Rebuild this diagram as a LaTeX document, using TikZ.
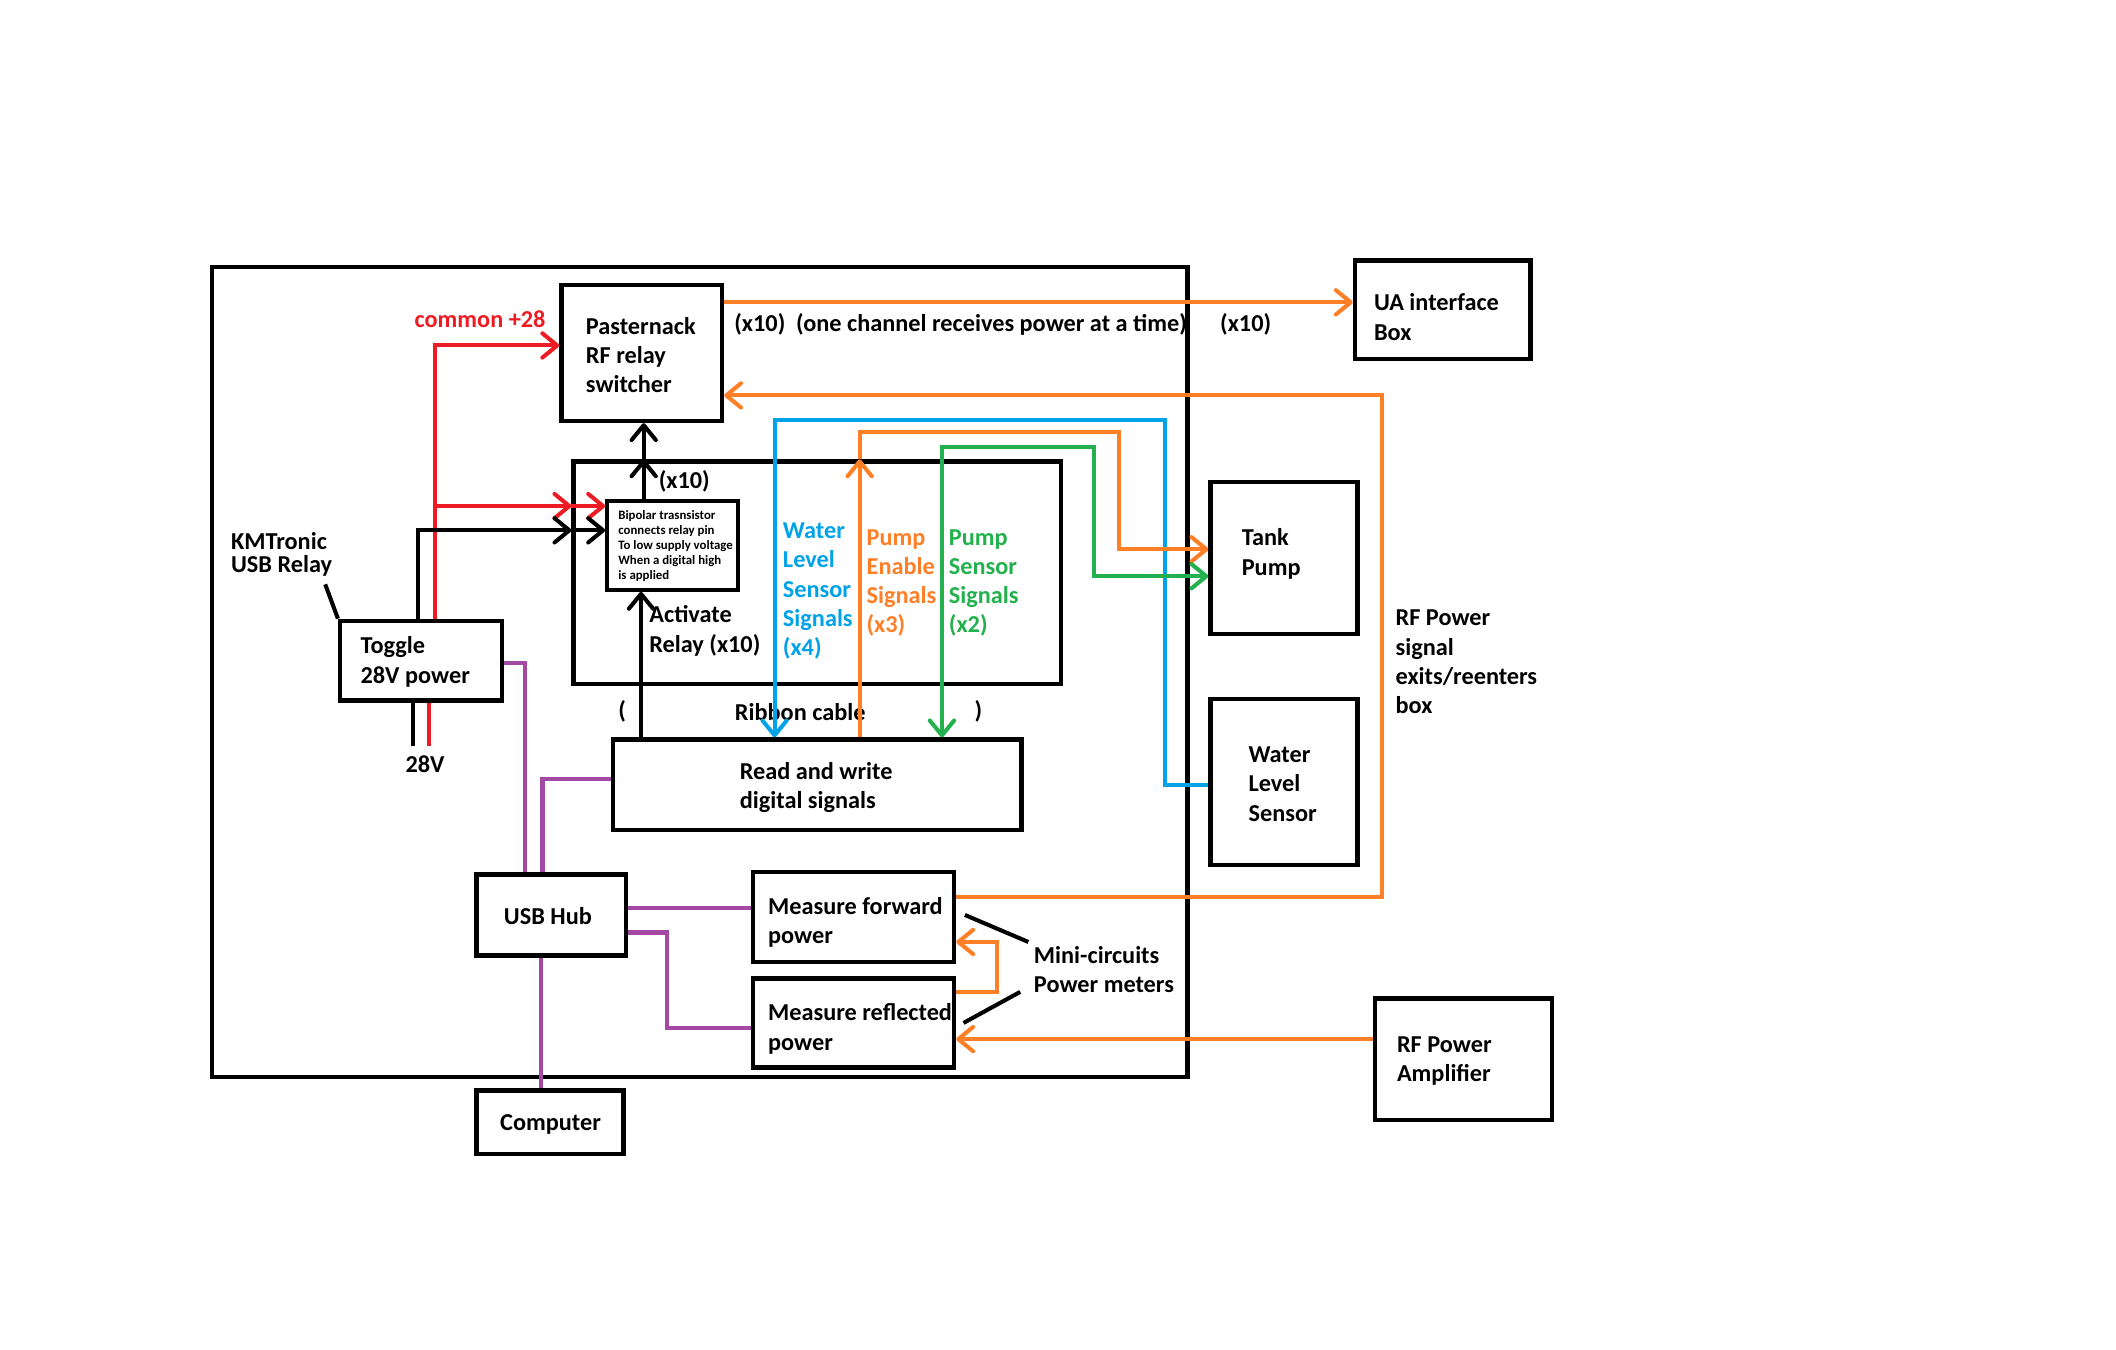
\documentclass[tikz,border=0pt]{standalone}
\usepackage{fontspec}
\setmainfont{Carlito}
\usetikzlibrary{arrows.meta}
\definecolor{pred}{HTML}{ED1C24}
\definecolor{porange}{HTML}{FF7F27}
\definecolor{pblue}{HTML}{00A2E8}
\definecolor{pgreen}{HTML}{22B14C}
\definecolor{ppurple}{HTML}{A349A4}

\begin{document}
\begin{tikzpicture}[x=1pt,y=-1pt,
  >={Straight Barb[length=11pt,width=18pt,round]},
  box/.style={draw=black, line width=3.2pt, inner sep=0pt},
  lbl/.style={font=\fontsize{18}{21.7}\selectfont\bfseries, align=left, inner sep=0pt, anchor=west},
  tinylbl/.style={font=\fontsize{9.5}{11}\selectfont\bfseries, align=left, inner sep=0pt, anchor=west},
  blkw/.style={draw=black, line width=3pt},
  redw/.style={draw=pred, line width=3pt},
  orw/.style={draw=porange, line width=3pt},
  blw/.style={draw=pblue, line width=3pt},
  grw/.style={draw=pgreen, line width=3pt},
  puw/.style={draw=ppurple, line width=3pt},
]
\fill[white] (0,0) rectangle (1568,1000);
\useasboundingbox (0,0) rectangle (1568,1000);

% ---- boxes ----
\node[box, minimum width=723pt, minimum height=600pt] (enclosure) at (518.5,498) {};
\node[box, minimum width=361pt, minimum height=165pt] (relay) at (605.5,424.5) {};
\node[box, minimum width=119pt, minimum height=101pt] (past) at (475.5,261.5) {};
\node[box, minimum width=97pt, minimum height=66pt] (bip) at (498.5,404) {};
\node[box, minimum width=120pt, minimum height=59pt] (toggle) at (312,489.5) {};
\node[box, minimum width=303pt, minimum height=67pt] (rw) at (605.5,581.5) {};
\node[box, minimum width=130pt, minimum height=73pt] (ua) at (1069,229.5) {};
\node[box, minimum width=109pt, minimum height=113pt] (tank) at (951.5,413.5) {};
\node[box, minimum width=109pt, minimum height=123pt] (wls) at (951.5,579.5) {};
\node[box, minimum width=111pt, minimum height=60pt] (usb) at (408.5,678) {};
\node[box, minimum width=109pt, minimum height=47pt] (comp) at (407.5,831.5) {};
\node[box, minimum width=149pt, minimum height=67pt] (mfwd) at (632.5,679.5) {};
\node[box, minimum width=149pt, minimum height=66pt] (mref) at (632.5,758) {};
\node[box, minimum width=131pt, minimum height=90pt] (amp) at (1084.5,785) {};

% ---- box texts ----
\node[lbl] (pasttxt) at (434,263) {Pasternack\\RF relay\\switcher};
\node[tinylbl] (biptxt) at (458,404.5) {Bipolar trasnsistor\\connects relay pin\\To low supply voltage\\When a digital high\\is applied};
\node[lbl] (toggletxt) at (267,490.5) {Toggle\\28V power};
\node[lbl] (rwtxt) at (548,583.5) {Read and write\\digital signals};
\node[lbl] (uatxt) at (1018,235) {UA interface\\Box};
\node[lbl] (tanktxt) at (920,410.5) {Tank\\Pump};
\node[lbl] (wlstxt) at (925,581) {Water\\Level\\Sensor};
\node[lbl, anchor=center] (usbtxt) at (406,678.5) {USB Hub};
\node[lbl, anchor=center] (comptxt) at (408,833.5) {Computer};
\node[lbl] (mfwdtxt) at (569,683.5) {Measure forward\\power};
\node[lbl] (mreftxt) at (569,762.5) {Measure reflected\\power};
\node[lbl] (amptxt) at (1035,786.5) {RF Power\\Amplifier};

% ---- free labels ----
\node[lbl, text=pred] (common) at (307,236.5) {common +28};
\node[lbl] (chan) at (544,240.5) {(x10)\hspace{8pt}(one channel receives power at a time)};
\node[lbl] (x10out) at (904,240.5) {(x10)};
\node[lbl] (x10up) at (488,356.5) {(x10)};
\node[lbl] (act) at (481,467.5) {Activate\\Relay (x10)};
\node[lbl, text=pblue] (wlsig) at (580,438) {Water\\Level\\Sensor\\Signals\\(x4)};
\node[lbl, text=porange] (pesig) at (642,432) {Pump\\Enable\\Signals\\(x3)};
\node[lbl, text=pgreen] (pssig) at (703,432) {Pump\\Sensor\\Signals\\(x2)};
\node[lbl, font=\fontsize{18}{17}\selectfont\bfseries] (km) at (171,410.5) {KMTronic\\USB Relay};
\node[lbl, anchor=center] (v28) at (315,566.5) {28V};
\node[lbl, anchor=center] (lpar) at (461,527) {(};
\node[lbl, anchor=center] (ribbon) at (593,527.5) {Ribbon cable};
\node[lbl, anchor=center] (rpar) at (725,527) {)};
\node[lbl] (rfsig) at (1034,490.5) {RF Power\\signal\\exits/reenters\\box};
\node[lbl] (mini) at (766,718.5) {Mini-circuits\\Power meters};

% ---- turning points ----
\coordinate (redrow) at (322,375);
\coordinate (blkrow) at (310,393);
\coordinate (relayup) at ([xshift=-21.5pt]bip.north);
\coordinate (actfoot) at ([xshift=-130.5pt]rw.north);
\coordinate (pefoot) at ([xshift=31.5pt]rw.north);
\coordinate (pe1) at (637,320);
\coordinate (pe2) at (829,407);
\coordinate (psfoot) at ([xshift=92.5pt]rw.north);
\coordinate (ps1) at (698,331);
\coordinate (ps2) at (811,427);
\coordinate (wlfoot) at ([xshift=-31.5pt]rw.north);
\coordinate (wl1) at (863,311);
\coordinate (wlin) at ([yshift=-2.5pt]wls.west);
\coordinate (rfloop) at (1024,293);
\coordinate (kmend) at (241,433);
\coordinate (mini1) at (762,698);
\coordinate (mini1b) at (715,678);
\coordinate (mini2) at (756,735);
\coordinate (mini2b) at (714,758);

% ---- red supply ----
\draw[redw,->] ([xshift=10pt]toggle.north) |- ([yshift=5.5pt]past.west);
\draw[redw,->] (redrow) -- (redrow -| relay.west);
\draw[redw,->] (redrow -| relay.west) -- (redrow -| bip.west);
\draw[redw] ([xshift=6pt]toggle.south) -- ++(0,32);

% ---- black control ----
\draw[blkw,->] ([xshift=-2pt]toggle.north) |- (blkrow -| relay.west);
\draw[blkw,->] (blkrow -| relay.west) -- (blkrow -| bip.west);
\draw[blkw] ([xshift=-6pt]toggle.south) -- ++(0,32);
\draw[blkw,->] (relayup) -- (relayup |- relay.north);
\draw[blkw,->] (relayup |- relay.north) -- (relayup |- past.south);
\draw[blkw,->] (actfoot) -- (actfoot |- bip.south);
\draw[blkw] (kmend) -- (toggle.north west);
\draw[blkw] (mini1) -- (mini1b);
\draw[blkw] (mini2) -- (mini2b);

% ---- signal lines ----
\draw[blw,->] (wlin) -| (wl1) -| (wlfoot);
\draw[orw,->] (pefoot) -- (pefoot |- relay.north);
\draw[orw,->] (pefoot |- relay.north) -- (pe1) -| (pe2) -- (pe2 -| tank.west);
\draw[grw,<->] (psfoot) -- (ps1) -| (ps2) -- (ps2 -| tank.west);

% ---- RF path ----
\draw[orw,->] ([yshift=37.5pt]past.east) -- ([yshift=5.5pt]ua.west);
\draw[orw,->] ([yshift=14.5pt]mfwd.east) -| (rfloop) -- (rfloop -| past.east);
\draw[orw,->] ([yshift=23pt]mref.east) -- ++(30,0) |- ([yshift=-18.5pt]mfwd.east);
\draw[orw,->] ([yshift=15pt]amp.west) -- ([yshift=-12pt]mref.east);

% ---- USB wiring ----
\draw[puw] ([yshift=-1.5pt]toggle.east) -| ([xshift=-19.5pt]usb.north);
\draw[puw] ([yshift=4.5pt]rw.west) -| ([xshift=-6.5pt]usb.north);
\draw[puw] ([yshift=5pt]usb.east) -- ([yshift=6.5pt]mfwd.west);
\draw[puw] ([yshift=-13pt]usb.east) -- ++(29,0) |- ([yshift=-4pt]mref.west);
\draw[puw] ([xshift=-7.5pt]usb.south) -- ([xshift=-6.5pt]comp.north);
\end{tikzpicture}
\end{document}
